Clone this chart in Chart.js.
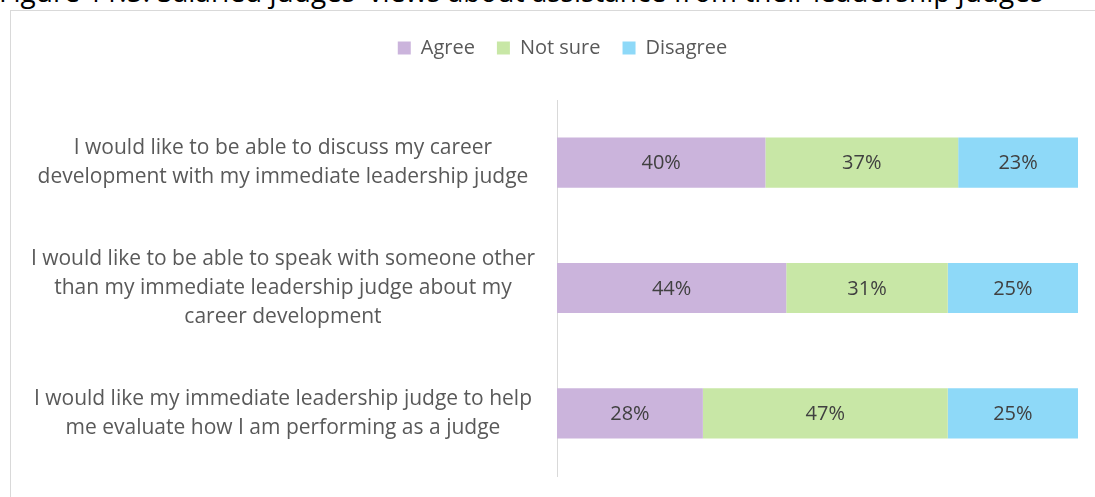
<!DOCTYPE html>
<html>
<head>
<meta charset="utf-8">
<script src="https://cdn.jsdelivr.net/npm/chart.js@4"></script>
<style>
  body { margin: 0; background: #fff; width: 1095px; height: 497px; overflow: hidden; position: relative; }
  #title { position: absolute; left: -1px; top: -23px; font: 28px/28px "Open Sans", sans-serif; color: #000; white-space: nowrap; }
  #box { position: absolute; left: 10px; top: 10px; width: 1100px; height: 500px; border: 1px solid #d9d9d9; }
  #wrap { position: absolute; left: 11px; top: 11px; width: 1084px; height: 486px; }
</style>
</head>
<body>
<div id="title">Figure 11.5: Salaried judges' views about assistance from their leadership judges</div>
<div id="box"></div>
<div id="wrap"><canvas id="chart"></canvas></div>
<script>
const categories = [
  ["I would like to be able to discuss my career", "development with my immediate leadership judge"],
  ["I would like to be able to speak with someone other", "than my immediate leadership judge about my", "career development"],
  ["I would like my immediate leadership judge to help", "me evaluate how I am performing as a judge"]
]
const seriesNames = ["Agree", "Not sure", "Disagree"]
const agree = [40, 44, 28]
const notSure = [37, 31, 47]
const disagree = [23, 25, 25]

const COLORS = ["#cbb4dc", "#c8e7a6", "#8ed9f8"]
const FONT = "'Open Sans', sans-serif"

// percentages written in the middle of each segment
const barLabels = {
  id: "barLabels",
  afterDatasetsDraw(chart) {
    const ctx = chart.ctx
    ctx.save()
    ctx.font = "20px " + FONT
    ctx.fillStyle = "#404040"
    ctx.textAlign = "center"
    ctx.textBaseline = "middle"
    chart.data.datasets.forEach((ds, i) => {
      chart.getDatasetMeta(i).data.forEach((bar, j) => {
        ctx.fillText(ds.data[j] + "%", (bar.x + bar.base) / 2, bar.y + 1)
      })
    })
    ctx.restore()
  }
}

// legend has no afterFit hook: wrap fit for a gap below it,
// and nudge it right like the original
const legendTweak = {
  id: "legendTweak",
  beforeUpdate(chart) {
    const lg = chart.legend
    if (lg && !lg._tweaked) {
      lg._tweaked = true
      const fit = lg.fit.bind(lg)
      const draw = lg.draw.bind(lg)
      lg.fit = function () { fit(); this.height += 32 }
      lg.draw = function () {
        this.ctx.save()
        this.ctx.translate(18, 0)
        draw()
        this.ctx.restore()
      }
    }
  }
}

new Chart(document.getElementById("chart"), {
  type: "bar",
  data: {
    labels: categories,
    datasets: [agree, notSure, disagree].map((d, i) => ({
      label: seriesNames[i],
      data: d,
      backgroundColor: COLORS[i],
      borderWidth: 0,
      barPercentage: 0.4,
      categoryPercentage: 1
    }))
  },
  options: {
    indexAxis: "y",
    responsive: true,
    maintainAspectRatio: false,
    animation: false,
    layout: { padding: { top: 5, right: 17, bottom: 21, left: 0 } },
    plugins: {
      legend: {
        position: "top",
        labels: {
          boxWidth: 13, boxHeight: 13, padding: 22,
          color: "#595959",
          font: { family: FONT, size: 20 }
        }
      },
      tooltip: { enabled: false }
    },
    scales: {
      x: {
        stacked: true, min: 0, max: 100,
        display: false
      },
      y: {
        stacked: true,
        grid: { display: false, drawTicks: false },
        border: { color: "#d9d9d9", width: 1 },
        afterFit(scale) {
          scale.width = 546
          scale.paddingTop = 0
          scale.paddingBottom = 0
        },
        ticks: {
          crossAlign: "center",
          padding: 22,
          color: "#595959",
          font: { family: FONT, size: 21, lineHeight: 1.38 }
        }
      }
    }
  },
  plugins: [barLabels, legendTweak]
})
</script>
</body>
</html>
